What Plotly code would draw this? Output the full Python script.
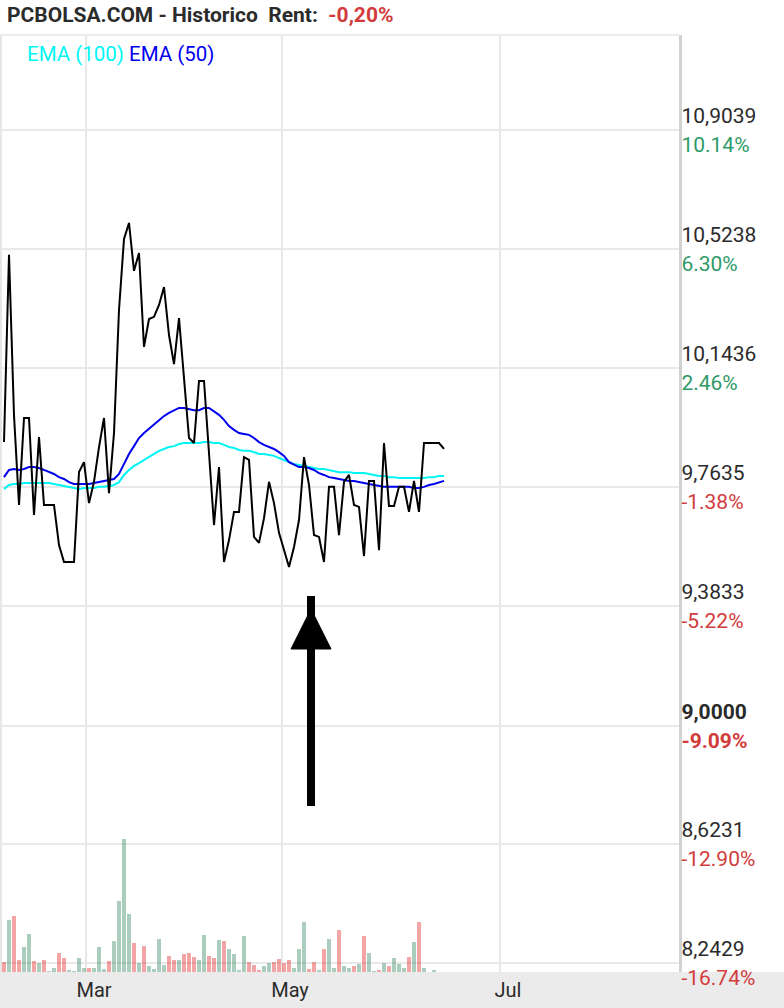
import plotly.graph_objects as go

# ---------------- data ----------------
close = [9.907, 10.505, 9.993, 9.706, 9.984, 9.984, 9.674, 9.923, 9.706, 9.706,
         9.706, 9.578, 9.524, 9.524, 9.524, 9.811, 9.843, 9.712, 9.780, 9.891,
         9.984, 9.744, 9.936, 10.329, 10.556, 10.607, 10.454, 10.511, 10.211, 10.300,
         10.307, 10.345, 10.402, 10.249, 10.156, 10.303, 10.099, 9.920, 9.904, 10.102,
         10.102, 9.856, 9.642, 9.827, 9.524, 9.594, 9.684, 9.684, 9.859, 9.850,
         9.604, 9.585, 9.664, 9.780, 9.712, 9.617, 9.559, 9.508, 9.572, 9.658,
         9.859, 9.770, 9.610, 9.604, 9.524, 9.764, 9.764, 9.610, 9.780, 9.802,
         9.706, 9.700, 9.543, 9.783, 9.783, 9.562, 9.904, 9.703, 9.703, 9.764,
         9.764, 9.684, 9.783, 9.684, 9.904, 9.904, 9.904, 9.904, 9.885]

ema50 = [9.795, 9.818, 9.821, 9.818, 9.821, 9.827, 9.827, 9.824, 9.818, 9.811,
         9.805, 9.795, 9.789, 9.779, 9.773, 9.773, 9.773, 9.773, 9.776, 9.779,
         9.783, 9.786, 9.789, 9.805, 9.837, 9.869, 9.894, 9.920, 9.936, 9.949,
         9.965, 9.978, 9.990, 10.000, 10.009, 10.016, 10.016, 10.013, 10.009, 10.009,
         10.016, 10.016, 10.006, 9.994, 9.978, 9.958, 9.946, 9.936, 9.933, 9.930,
         9.920, 9.907, 9.898, 9.891, 9.885, 9.875, 9.863, 9.843, 9.834, 9.827,
         9.827, 9.824, 9.818, 9.808, 9.802, 9.795, 9.792, 9.789, 9.786, 9.783,
         9.783, 9.779, 9.776, 9.773, 9.770, 9.767, 9.764, 9.764, 9.764, 9.764,
         9.764, 9.764, 9.760, 9.760, 9.764, 9.770, 9.773, 9.779, 9.783]

ema100 = [9.757, 9.770, 9.773, 9.773, 9.776, 9.776, 9.776, 9.776, 9.776, 9.776,
          9.773, 9.770, 9.767, 9.764, 9.760, 9.757, 9.760, 9.760, 9.760, 9.764,
          9.764, 9.767, 9.770, 9.779, 9.802, 9.818, 9.831, 9.840, 9.850, 9.859,
          9.869, 9.879, 9.885, 9.891, 9.894, 9.901, 9.904, 9.904, 9.904, 9.904,
          9.907, 9.907, 9.904, 9.904, 9.898, 9.891, 9.888, 9.882, 9.879, 9.879,
          9.875, 9.869, 9.869, 9.866, 9.863, 9.856, 9.850, 9.843, 9.837, 9.834,
          9.831, 9.827, 9.824, 9.821, 9.821, 9.818, 9.815, 9.811, 9.811, 9.811,
          9.808, 9.808, 9.808, 9.805, 9.802, 9.799, 9.799, 9.795, 9.795, 9.792,
          9.792, 9.792, 9.792, 9.792, 9.792, 9.795, 9.795, 9.799, 9.799]

volume = [10, 52, 56, 12, 25, 38, 11, 9, 12, 1,
          4, 19, 14, 2, 1, 14, 4, 4, 4, 25,
          3, 11, 31, 71, 133, 58, 29, 9, 26, 6,
          3, 33, 7, 16, 12, 12, 18, 19, 15, 12,
          37, 16, 14, 32, 31, 23, 18, 2, 36, 10,
          7, 2, 6, 9, 10, 13, 9, 12, 4, 23,
          50, 3, 10, 2, 23, 33, 4, 42, 6, 4,
          6, 8, 36, 19, 1, 2, 9, 6, 14, 8,
          4, 15, 30, 50, 4, 0, 2, 0, 0]

direction = ["d", "u", "d", "d", "u", "u", "d", "u", "d", "u",
             "u", "d", "d", "u", "u", "u", "u", "d", "u", "u",
             "u", "d", "u", "u", "u", "u", "d", "u", "d", "u",
             "u", "u", "u", "d", "d", "u", "d", "d", "d", "u",
             "u", "d", "d", "u", "d", "u", "u", "u", "u", "d",
             "d", "d", "u", "u", "d", "d", "d", "d", "u", "u",
             "u", "d", "d", "u", "d", "u", "u", "d", "u", "u",
             "d", "u", "d", "u", "u", "d", "u", "d", "u", "u",
             "u", "d", "u", "d", "u", "u", "u", "u", "u"]

day_index = list(range(len(close)))

month_ticks = [16.4, 55.6, 99.2]
month_labels = ["Mar", "May", "Jul"]

tick_prices = [10.9039, 10.5238, 10.1436, 9.7635, 9.3833, 9.0000, 8.6231, 8.2429]
tick_price_text = ["10,9039", "10,5238", "10,1436", "9,7635", "9,3833", "9,0000", "8,6231", "8,2429"]
tick_pct_text = ["10.14%", "6.30%", "2.46%", "-1.38%", "-5.22%", "-9.09%", "-12.90%", "-16.74%"]
reference_label = "9,0000"

arrow_day = 61.4
arrow_low, arrow_high = 8.7445, 9.4153
arrow_head_apex, arrow_head_base = 9.3738, 9.2460
arrow_head_half = 4.0

# ---------------- styling ----------------
GREEN_TXT = "#2e9a68"
RED_TXT = "#d23c3c"
DARK = "#2b2b2b"
GRID = "#e8e8e8"

tick_text = []
for p, pct in zip(tick_price_text, tick_pct_text):
    col = RED_TXT if pct.startswith("-") else GREEN_TXT
    if p == reference_label:
        tick_text.append(f"<span style='font-size:21px'><b>{p}</b></span><br>"
                         f"<span style='font-size:21px;color:{col}'><b>{pct}</b></span>")
    else:
        tick_text.append(f"<span style='font-size:21px'>{p}</span><br>"
                         f"<span style='font-size:21px;color:{col}'>{pct}</span>")

bar_colors = ["rgba(60,140,105,0.43)" if d == "u" else "rgba(225,30,30,0.40)" for d in direction]

fig = go.Figure()
fig.add_trace(go.Bar(x=day_index, y=volume, marker=dict(color=bar_colors, line=dict(width=0)),
                     width=0.8, yaxis="y2", showlegend=False, hoverinfo="skip"))
fig.add_trace(go.Scatter(x=day_index, y=ema100, mode="lines", line=dict(color="#00f6f6", width=2),
                         name="EMA (100)", showlegend=False))
fig.add_trace(go.Scatter(x=day_index, y=ema50, mode="lines", line=dict(color="#0000ee", width=2),
                         name="EMA (50)", showlegend=False))
fig.add_trace(go.Scatter(x=day_index, y=close, mode="lines", line=dict(color="#000000", width=2),
                         name="Cierre", showlegend=False))

W, H = 784, 1008
plot_left, plot_right, plot_top, plot_bottom = 2, 679, 35, 972

fig.update_layout(
    width=W, height=H, autosize=False,
    margin=dict(l=0, r=0, t=0, b=0),
    paper_bgcolor="white", plot_bgcolor="white",
    font=dict(family="Roboto", color=DARK, size=20),
    bargap=0,
    xaxis=dict(domain=[plot_left / W, plot_right / W], range=[-0.4, 135], automargin=False,
               tickmode="array", tickvals=month_ticks, ticktext=month_labels,
               showgrid=True, gridcolor=GRID, gridwidth=2, zeroline=False,
               ticks="", tickfont=dict(size=20, color=DARK),
               ticklabelshift=8, ticklabelstandoff=4, showline=False),
    yaxis=dict(domain=[1 - plot_bottom / H, 1 - plot_top / H], range=[8.2142, 11.2074], automargin=False,
               side="right", tickmode="array", tickvals=tick_prices, ticktext=tick_text,
               showgrid=True, gridcolor=GRID, gridwidth=2, zeroline=False,
               ticks="", tickfont=dict(size=22, color=DARK), ticklabelstandoff=-5,
               showline=True, linecolor="#d2d2d2", linewidth=3),
    yaxis2=dict(domain=[1 - plot_bottom / H, 1 - plot_top / H], range=[0, 937], automargin=False,
                overlaying="y", visible=False),
)

shapes = [
    dict(type="rect", xref="paper", yref="paper", x0=0, x1=1, y0=0, y1=1 - plot_bottom / H,
         fillcolor="#ebebeb", line=dict(width=0), layer="below"),
    dict(type="line", xref="paper", yref="paper", x0=0, x1=plot_right / W,
         y0=1 - plot_top / H, y1=1 - plot_top / H, line=dict(color="#ececec", width=2)),
    dict(type="line", xref="paper", yref="paper", x0=1 / W, x1=1 / W,
         y0=1 - plot_bottom / H, y1=1 - plot_top / H, line=dict(color="#e6e6e6", width=2)),
    dict(type="line", xref="x", yref="y", x0=arrow_day, x1=arrow_day, y0=arrow_low, y1=arrow_high,
         line=dict(color="black", width=8)),
    dict(type="path", xref="x", yref="y",
         path=f"M {arrow_day - arrow_head_half},{arrow_head_base} L {arrow_day + arrow_head_half},{arrow_head_base} "
              f"L {arrow_day},{arrow_head_apex} Z",
         fillcolor="black", line=dict(color="black", width=1)),
]
fig.update_layout(shapes=shapes)

fig.add_annotation(xref="paper", yref="paper", x=5 / W, y=1 - 15 / H, xanchor="left", yanchor="middle",
                   showarrow=False, align="left",
                   text=f"<b>PCBOLSA.COM - Historico\u00a0 Rent:\u00a0\u00a0</b><span style='color:{RED_TXT}'><b>-0,20%</b></span>",
                   font=dict(size=21, color=DARK, family="Roboto"))
fig.add_annotation(xref="paper", yref="paper", x=25 / W, y=1 - 54 / H, xanchor="left", yanchor="middle",
                   showarrow=False, align="left",
                   text="<span style='color:#00f6f6'>EMA (100)</span> <span style='color:#0000ee'>EMA (50)</span>",
                   font=dict(size=20.5, family="Roboto"))

fig.write_html("out.html", config={"responsive": False})
